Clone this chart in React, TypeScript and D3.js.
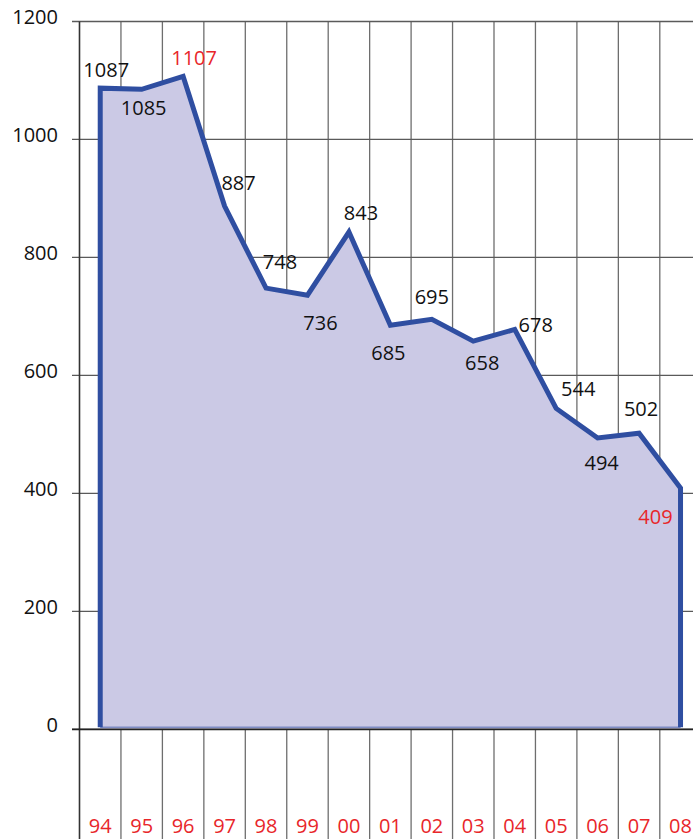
import React from "react";
import * as d3 from "d3";

const years = ["94", "95", "96", "97", "98", "99", "00", "01", "02", "03", "04", "05", "06", "07", "08"];
const values = [1087, 1085, 1107, 887, 748, 736, 843, 685, 695, 658, 678, 544, 494, 502, 409];
const highlighted = [false, false, true, false, false, false, false, false, false, false, false, false, false, false, true];
const yTicks = [0, 200, 400, 600, 800, 1000, 1200];

// label offsets (styling) relative to each point
const labelDx = [6, 2, 11, 14, 14, 13, 12, -2, 0, 9, 21, 22, 4, 2, -25];
const labelDy = [-11, 26, -11, -16, -19, 35, -12, 35, -15, 29, 3, -12, 32, -17, 36];

const W = 693;
const H = 839;
const FONT = "'Open Sans', 'DejaVu Sans', sans-serif";

export default function App() {
  const x = d3.scaleBand<string>().domain(years).range([79.5, 79.5 + 15 * 41.45]).paddingInner(0).paddingOuter(0);
  const y = d3.scaleLinear().domain([0, 1200]).range([729.3, 21.5]);
  const cx = (yr: string) => (x(yr) as number) + x.bandwidth() / 2;

  const data = years.map((yr, i) => ({ yr, v: values[i] }));
  const area = d3
    .area<{ yr: string; v: number }>()
    .x((d) => cx(d.yr))
    .y0(y(0))
    .y1((d) => y(d.v));
  const line = d3
    .line<[number, number]>()
    .x((d) => d[0])
    .y((d) => d[1]);
  const outline: [number, number][] = [
    [cx(years[0]), y(0) - 2],
    ...data.map((d) => [cx(d.yr), y(d.v)] as [number, number]),
    [cx(years[years.length - 1]), y(0) - 2],
  ];

  const bounds = [...years.map((yr) => x(yr) as number)];

  return (
    <svg
      width={W}
      height={H}
      style={{ position: "absolute", left: 0, top: 0, background: "#fff" }}
      fontFamily={FONT}
    >
      {/* vertical grid */}
      {bounds.slice(1).map((b, i) => (
        <line key={"v" + i} x1={b} x2={b} y1={y(1200)} y2={H} stroke="#6e6e6e" strokeWidth={1.3} />
      ))}
      {/* horizontal grid */}
      {yTicks.map((t) => (
        <line key={"h" + t} x1={72} x2={W} y1={y(t)} y2={y(t)} stroke="#5a5a5a" strokeWidth={1.3} />
      ))}
      {/* area */}
      <path d={area(data) as string} fill="#cbc9e5" />
      <line x1={cx(years[0])} x2={cx(years[years.length - 1])} y1={y(0) - 2} y2={y(0) - 2} stroke="#7f8cc4" strokeWidth={1.5} />
      <path d={line(outline) as string} fill="none" stroke="#2f4ea1" strokeWidth={5} strokeLinejoin="miter" />
      {/* axes */}
      <line x1={79.5} x2={79.5} y1={y(1200)} y2={H} stroke="#333" strokeWidth={1.6} />
      <line x1={72} x2={W} y1={y(0)} y2={y(0)} stroke="#222" strokeWidth={1.8} />
      {/* y tick labels */}
      {yTicks.map((t) => (
        <text key={"t" + t} x={58} y={y(t)} dy="0.12em" textAnchor="end" fontSize={20} fill="#111">
          {t}
        </text>
      ))}
      {/* x labels */}
      {years.map((yr) => (
        <text key={"x" + yr} x={cx(yr)} y={833} textAnchor="middle" fontSize={20} fill="#e8262a">
          {yr}
        </text>
      ))}
      {/* value labels */}
      {data.map((d, i) => (
        <text
          key={"l" + i}
          x={cx(d.yr) + labelDx[i]}
          y={y(d.v) + labelDy[i]}
          textAnchor="middle"
          fontSize={20}
          fill={highlighted[i] ? "#e8262a" : "#111"}
        >
          {d.v}
        </text>
      ))}
    </svg>
  );
}
